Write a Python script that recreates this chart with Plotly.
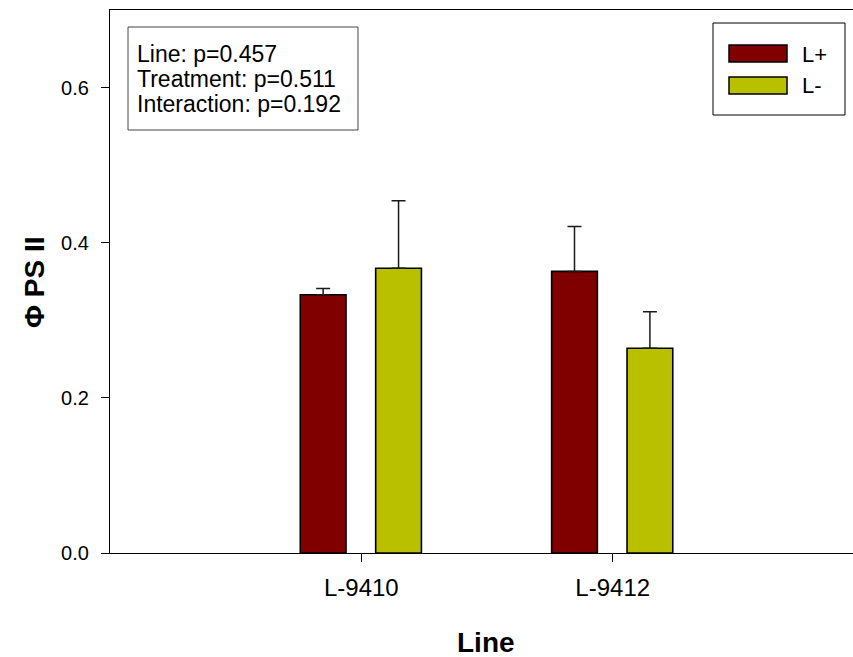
import plotly.graph_objects as go

# Data
lines = ["L-9410", "L-9412"]
treatments = ["L+", "L-"]
means_lplus = [0.333, 0.363]
means_lminus = [0.367, 0.264]
err_lplus = [0.008, 0.058]
err_lminus = [0.087, 0.047]
stats_text = ["Line: p=0.457", "Treatment: p=0.511", "Interaction: p=0.192"]
ytick_vals = [0.0, 0.2, 0.4, 0.6]

colors = {"L+": "#800000", "L-": "#B9C000"}

W, H = 853, 657
ML, MR, MT, MB = 110, 0, 10, 104
PW, PH = W - ML - MR, H - MT - MB


def px_x(x):
    return (x - ML) / PW


def px_y(y):
    return (H - MB - y) / PH


xpos = list(range(len(lines)))
fig = go.Figure()

for name, means, errs, off in [("L+", means_lplus, err_lplus, -0.243),
                               ("L-", means_lminus, err_lminus, 0.057)]:
    fig.add_trace(go.Bar(
        x=xpos, y=means, name=name, width=0.182, offset=off,
        marker=dict(color=colors[name], line=dict(color="black", width=1.6)),
        error_y=dict(type="data", array=errs, arrayminus=[0] * len(errs),
                     symmetric=False, color="#1a1a1a", thickness=1.5, width=7),
        showlegend=False,
    ))

font = "Liberation Sans, Arial, sans-serif"
shapes = []
annotations = []

# Statistics box
shapes.append(dict(type="rect", xref="paper", yref="paper",
                   x0=px_x(128), x1=px_x(358), y0=px_y(130), y1=px_y(27),
                   line=dict(color="#444", width=1), fillcolor="white"))
for i, t in enumerate(stats_text):
    annotations.append(dict(text=t, xref="paper", yref="paper",
                            x=px_x(135), y=px_y(54 + 25 * i),
                            xanchor="left", yanchor="middle", showarrow=False,
                            font=dict(family=font, size=23, color="black")))

# Legend box
shapes.append(dict(type="rect", xref="paper", yref="paper",
                   x0=px_x(713), x1=px_x(845), y0=px_y(115), y1=px_y(23),
                   line=dict(color="black", width=1), fillcolor="white"))
for i, name in enumerate(treatments):
    top = 45 + 32 * i
    shapes.append(dict(type="rect", xref="paper", yref="paper",
                       x0=px_x(729), x1=px_x(787), y0=px_y(top + 17), y1=px_y(top),
                       line=dict(color="black", width=1.5),
                       fillcolor=colors[name]))
    annotations.append(dict(text=name, xref="paper", yref="paper",
                            x=px_x(800), y=px_y(top + 9),
                            xanchor="left", yanchor="middle", showarrow=False,
                            font=dict(family=font, size=22, color="black")))

# Axis titles
annotations.append(dict(text="<b>Line</b>", xref="paper", yref="paper",
                        x=px_x(486), y=px_y(642), xanchor="center",
                        yanchor="middle", showarrow=False,
                        font=dict(family=font, size=28, color="black")))
annotations.append(dict(text="<b>\u03a6 PS II</b>", xref="paper", yref="paper",
                        x=px_x(35), y=px_y(283), xanchor="center",
                        yanchor="middle", showarrow=False, textangle=-90,
                        font=dict(family=font, size=28, color="black")))

fig.update_layout(
    width=W, height=H,
    margin=dict(l=ML, r=MR, t=MT, b=MB),
    plot_bgcolor="white", paper_bgcolor="white",
    barmode="overlay",
    shapes=shapes, annotations=annotations,
    font=dict(family=font, color="black"),
    xaxis=dict(range=[-1, 1.956], tickvals=xpos, ticktext=lines,
               showline=True, linecolor="black", linewidth=1.2, mirror=True,
               ticks="outside", ticklen=8, tickcolor="black", tickwidth=1.2,
               ticklabelstandoff=5,
               showgrid=False, zeroline=False,
               tickfont=dict(family=font, size=24, color="black")),
    yaxis=dict(range=[0, 0.7], tickvals=ytick_vals, tickformat=".1f",
               showline=True, linecolor="black", linewidth=1.2, mirror=False,
               ticks="outside", ticklen=8, tickcolor="black", tickwidth=1.2,
               ticklabelstandoff=8,
               showgrid=False, zeroline=False,
               tickfont=dict(family=font, size=20, color="black")),
)

fig.write_html("out.html")
